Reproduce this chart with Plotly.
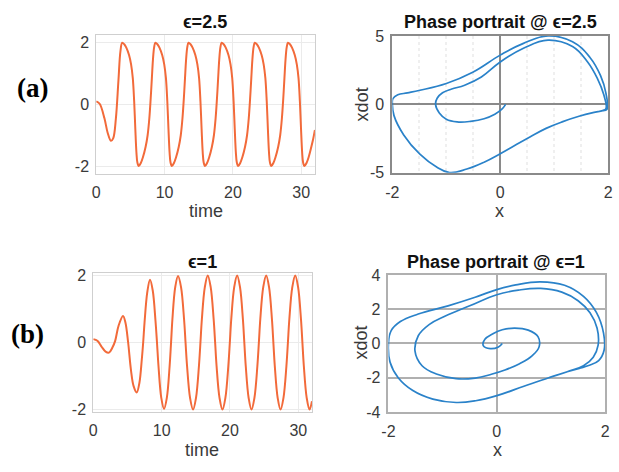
import plotly.graph_objects as go

# ---------------- data ----------------
# (a) eps = 2.5 : time series
ta_time = [0, 0.5, 1.2, 1.67, 2.15, 2.48, 2.87, 3.25, 3.54, 3.8,
           4.1, 4.4, 4.8, 5.1, 5.35, 5.55, 5.72, 5.88, 6.02, 6.22,
           6.52, 6.82, 7.22, 7.52, 7.77, 7.97, 8.14, 8.3, 8.47, 8.65,
           8.95, 9.25, 9.65, 9.95, 10.2, 10.4, 10.57, 10.73, 10.87, 11.07,
           11.37, 11.67, 12.07, 12.37, 12.62, 12.82, 12.99, 13.15, 13.32, 13.5,
           13.8, 14.1, 14.5, 14.8, 15.05, 15.25, 15.42, 15.58, 15.72, 15.92,
           16.22, 16.52, 16.92, 17.22, 17.47, 17.67, 17.84, 18.0, 18.17, 18.35,
           18.65, 18.95, 19.35, 19.65, 19.9, 20.1, 20.27, 20.43, 20.57, 20.77,
           21.07, 21.37, 21.77, 22.07, 22.32, 22.52, 22.69, 22.85, 23.02, 23.2,
           23.5, 23.8, 24.2, 24.5, 24.75, 24.95, 25.12, 25.28, 25.42, 25.62,
           25.92, 26.22, 26.62, 26.92, 27.17, 27.37, 27.54, 27.7, 27.87, 28.05,
           28.35, 28.65, 29.05, 29.35, 29.6, 29.8, 29.97, 30.13, 30.27, 30.47,
           30.77, 31.07, 31.47, 31.77, 32.0]
ta_x = [0.1, 0.02, -0.45, -0.92, -1.18, -1.1, -0.47, 0.78, 1.72, 2.0,
        1.95, 1.84, 1.6, 1.3, 0.85, 0.1, -0.8, -1.55, -1.88, -2.0,
        -1.9, -1.72, -1.38, -1.0, -0.45, 0.2, 0.85, 1.45, 1.85, 2.0,
        1.95, 1.84, 1.6, 1.3, 0.85, 0.1, -0.8, -1.55, -1.88, -2.0,
        -1.9, -1.72, -1.38, -1.0, -0.45, 0.2, 0.85, 1.45, 1.85, 2.0,
        1.95, 1.84, 1.6, 1.3, 0.85, 0.1, -0.8, -1.55, -1.88, -2.0,
        -1.9, -1.72, -1.38, -1.0, -0.45, 0.2, 0.85, 1.45, 1.85, 2.0,
        1.95, 1.84, 1.6, 1.3, 0.85, 0.1, -0.8, -1.55, -1.88, -2.0,
        -1.9, -1.72, -1.38, -1.0, -0.45, 0.2, 0.85, 1.45, 1.85, 2.0,
        1.95, 1.84, 1.6, 1.3, 0.85, 0.1, -0.8, -1.55, -1.88, -2.0,
        -1.9, -1.72, -1.38, -1.0, -0.45, 0.2, 0.85, 1.45, 1.85, 2.0,
        1.95, 1.84, 1.6, 1.3, 0.85, 0.1, -0.8, -1.55, -1.88, -2.0,
        -1.9, -1.72, -1.38, -1.1, -0.83]

# (a) eps = 2.5 : phase portrait
pa_x = [0.1, 0.03, -0.1, -0.3, -0.55, -0.8, -1.0, -1.13, -1.2,
        -1.17, -1.07, -0.9, -0.66, -0.35, 0.0, 0.43, 0.885, 1.34, 1.62, 1.8, 1.92, 1.96,
        1.9, 1.72, 1.46, 1.16, 0.85, 0.55, 0.26, 0.0, -0.3, -0.62, -0.94, -1.18, -1.49, -1.79, -1.97, -2.0,
        -1.99, -1.9, -1.72, -1.49, -1.0, -0.51, 0.0, 0.43, 0.885, 1.34, 1.66, 1.86, 1.96, 1.98,
        1.9, 1.72, 1.46, 1.16, 0.85, 0.55, 0.26, 0.0, -0.3, -0.62, -0.94, -1.18, -1.49, -1.79, -1.97, -2.0,
        -1.99, -1.9, -1.72, -1.49, -1.0, -0.51, 0.0, 0.43, 0.885, 1.34, 1.66, 1.86, 1.96, 1.98,
        1.9]
pa_v = [0.0, -0.35, -0.72, -1.05, -1.24, -1.28, -1.08, -0.62, 0.0,
        0.45, 0.85, 1.12, 1.4, 2.0, 3.1, 4.1, 4.7, 4.23, 3.1, 1.9, 0.7, -0.3,
        -0.45, -0.6, -0.87, -1.26, -1.75, -2.38, -3.02, -3.6, -4.22, -4.72, -4.98, -4.58, -3.64, -2.23, -0.82, 0.0,
        0.42, 0.7, 0.84, 1.03, 1.53, 2.35, 3.6, 4.46, 5.0, 4.58, 3.45, 2.1, 0.8, -0.35,
        -0.45, -0.6, -0.87, -1.26, -1.75, -2.38, -3.02, -3.6, -4.22, -4.72, -4.98, -4.58, -3.64, -2.23, -0.82, 0.0,
        0.42, 0.7, 0.84, 1.03, 1.53, 2.35, 3.6, 4.46, 5.0, 4.58, 3.45, 2.1, 0.8, -0.35,
        -0.45]

# (b) eps = 1 : time series
tb_time = [0, 0.6, 1.2, 1.8, 2.3, 2.8, 3.2, 3.7, 4.35,
           4.7, 5.1, 5.5, 5.9, 6.36,
           6.75, 7.1, 7.3, 7.5, 7.9, 8.3,
           8.7, 9.1, 9.32, 9.54, 9.95, 10.35,
           10.76, 11.17, 11.38, 11.58, 11.99, 12.4,
           12.84, 13.28, 13.5, 13.72, 14.16, 14.6,
           15.03, 15.46, 15.68, 15.89, 16.32, 16.75,
           17.18, 17.61, 17.83, 18.04, 18.47, 18.9,
           19.33, 19.76, 19.98, 20.19, 20.62, 21.05,
           21.47, 21.89, 22.1, 22.31, 22.73, 23.15,
           23.58, 24.01, 24.23, 24.44, 24.87, 25.3,
           25.72, 26.14, 26.35, 26.56, 26.98, 27.4,
           27.83, 28.26, 28.48, 28.69, 29.12, 29.55,
           29.97, 30.39, 30.6, 30.81, 31.23, 31.65,
           32.0]
tb_x = [0.1, 0.05, -0.12, -0.27, -0.3, -0.15, 0.05, 0.5, 0.79,
        0.6, 0.0, -0.8, -1.3, -1.49,
        -1.2, -0.5, 0.0, 0.6, 1.5, 1.87,
        1.55, 0.65, 0.0, -0.7, -1.65, -1.98,
        -1.65, -0.7, 0.0, 0.7, 1.65, 1.98,
        1.65, 0.7, 0.0, -0.7, -1.65, -2.0,
        -1.65, -0.7, 0.0, 0.7, 1.65, 2.0,
        1.65, 0.7, 0.0, -0.7, -1.65, -2.0,
        -1.65, -0.7, 0.0, 0.7, 1.65, 2.0,
        1.65, 0.7, 0.0, -0.7, -1.65, -2.0,
        -1.65, -0.7, 0.0, 0.7, 1.65, 2.0,
        1.65, 0.7, 0.0, -0.7, -1.65, -2.0,
        -1.65, -0.7, 0.0, 0.7, 1.65, 2.0,
        1.65, 0.7, 0.0, -0.7, -1.65, -2.0,
        -1.75]

# (b) eps = 1 : phase portrait
pb_x = [0.1, 0.03, -0.12, -0.25, -0.22, -0.08, 0.1, 0.33, 0.58, 0.76, 0.78, 0.65, 0.42, 0.15, -0.1,
        -0.4, -0.75, -1.1, -1.38, -1.51, -1.45, -1.25, -0.95, -0.5, 0.0, 0.4, 0.81, 1.2, 1.5, 1.72,
        1.85, 1.87, 1.78, 1.6,
        1.3, 0.96, 0.5, 0.0, -0.39, -0.75, -1.18, -1.55, -1.82, -1.97, -2.0,
        -1.95, -1.78, -1.45, -0.9, -0.4, 0.0, 0.35, 0.8, 1.25, 1.6, 1.84, 1.97, 1.98, 1.88, 1.68,
        1.3, 0.96, 0.5, 0.0, -0.39, -0.75, -1.18, -1.55, -1.82, -1.97, -2.0,
        -1.95, -1.78, -1.45, -0.9, -0.4, 0.0, 0.35, 0.8, 1.25, 1.6, 1.84, 1.97, 1.98, 1.88, 1.68,
        1.3]
pb_v = [0.0, -0.2, -0.3, -0.12, 0.25, 0.55, 0.8, 0.9, 0.78, 0.4, -0.2, -0.72, -1.18, -1.55, -1.8,
        -2.02, -2.06, -1.8, -1.3, -0.45, 0.45, 1.1, 1.6, 2.2, 2.85, 3.12, 3.22, 3.0, 2.5, 1.8,
        0.9, -0.1, -0.8, -1.3,
        -1.65, -2.0, -2.5, -3.05, -3.35, -3.45, -3.25, -2.75, -2.0, -1.1, 0.0,
        0.75, 1.28, 1.72, 2.2, 2.7, 3.15, 3.42, 3.6, 3.4, 2.75, 1.8, 0.6, -0.4, -1.0, -1.3,
        -1.65, -2.0, -2.5, -3.05, -3.35, -3.45, -3.25, -2.75, -2.0, -1.1, 0.0,
        0.75, 1.28, 1.72, 2.2, 2.7, 3.15, 3.42, 3.6, 3.4, 2.75, 1.8, 0.6, -0.4, -1.0, -1.3,
        -1.65]

# tick values and labels
ts_ticks_x = [0, 10, 20, 30]
ts_ticks_y = [-2, 0, 2]
ts_ticktext_y = ["-2", "0", "2"]
pp_ticks_x = [-2, 0, 2]
pp_ticktext_x = ["-2", "0", "2"]
pa_ticks_y = [-5, 0, 5]
pa_ticktext_y = ["-5", "0", "5"]
pb_ticks_y = [-4, -2, 0, 2, 4]
pb_ticktext_y = ["-4", "-2", "0", "2", "4"]

W, H = 619, 472
ORANGE = "#F26A3A"
BLUE = "#2A82C9"


def px(x):
    return x / W


def py(y):
    return 1 - y / H


fig = go.Figure()
fig.add_trace(go.Scatter(x=ta_time, y=ta_x, mode="lines", xaxis="x", yaxis="y",
                         line=dict(color=ORANGE, width=2, shape="spline", smoothing=1.0)))
fig.add_trace(go.Scatter(x=pa_x, y=pa_v, mode="lines", xaxis="x2", yaxis="y2",
                         line=dict(color=BLUE, width=1.7, shape="spline", smoothing=1.2)))
fig.add_trace(go.Scatter(x=tb_time, y=tb_x, mode="lines", xaxis="x3", yaxis="y3",
                         line=dict(color=ORANGE, width=2, shape="spline", smoothing=1.0)))
fig.add_trace(go.Scatter(x=pb_x, y=pb_v, mode="lines", xaxis="x4", yaxis="y4",
                         line=dict(color=BLUE, width=1.7, shape="spline", smoothing=1.2)))

TICKFONT = dict(family="Liberation Sans, Arial", size=16, color="#3a3a3a")
LIGHT_GRID = "#ebebeb"
LIGHT_LINE = "#cfcfcf"

common = dict(showline=True, mirror=True, zeroline=False, ticks="", tickfont=TICKFONT,
              fixedrange=True)

fig.update_layout(
    width=W, height=H, autosize=False,
    margin=dict(l=0, r=0, t=0, b=0),
    paper_bgcolor="white", plot_bgcolor="white",
    showlegend=False,
    xaxis=dict(domain=[px(91), px(314)], range=[0, 32], anchor="y",
               tickvals=ts_ticks_x, showgrid=True, gridcolor=LIGHT_GRID,
               linecolor=LIGHT_LINE, ticklabelstandoff=4, **common),
    yaxis=dict(domain=[py(172), py(28)], range=[-2.25, 2.25], anchor="x",
               tickvals=ts_ticks_y, ticktext=ts_ticktext_y, showgrid=True, gridcolor=LIGHT_GRID,
               linecolor=LIGHT_LINE, ticklabelstandoff=3, **common),
    xaxis2=dict(domain=[px(393), px(613)], range=[-2, 2], anchor="y2",
                tickvals=pp_ticks_x, ticktext=pp_ticktext_x, showgrid=True,
                gridcolor="#8a8a8a", gridwidth=2,
                minor=dict(dtick=0.5, showgrid=True, gridcolor="#efefef", griddash="dot"),
                linecolor="#8a8a8a", linewidth=2, ticklabelstandoff=4, **common),
    yaxis2=dict(domain=[py(171), py(29)], range=[-5, 5], anchor="x2",
                tickvals=pa_ticks_y, ticktext=pa_ticktext_y, showgrid=True,
                gridcolor="#8a8a8a", gridwidth=2,
                linecolor="#8a8a8a", linewidth=2, ticklabelstandoff=3, **common),
    xaxis3=dict(domain=[px(88), px(311)], range=[0, 32], anchor="y3",
                tickvals=ts_ticks_x, showgrid=True, gridcolor=LIGHT_GRID,
                linecolor=LIGHT_LINE, ticklabelstandoff=4, **common),
    yaxis3=dict(domain=[py(419), py(275)], range=[-2.07, 2.07], anchor="x3",
                tickvals=ts_ticks_y, ticktext=ts_ticktext_y, showgrid=True, gridcolor=LIGHT_GRID,
                linecolor=LIGHT_LINE, ticklabelstandoff=3, **common),
    xaxis4=dict(domain=[px(389), px(610)], range=[-2, 2], anchor="y4",
                tickvals=pp_ticks_x, ticktext=pp_ticktext_x, showgrid=True,
                gridcolor="#b0b0b0", gridwidth=1.5,
                linecolor="#b0b0b0", linewidth=1.5, ticklabelstandoff=4, **common),
    yaxis4=dict(domain=[py(419), py(277)], range=[-4, 4], anchor="x4",
                tickvals=pb_ticks_y, ticktext=pb_ticktext_y, showgrid=True,
                gridcolor="#b0b0b0", gridwidth=1.5,
                linecolor="#b0b0b0", linewidth=1.5, ticklabelstandoff=3, **common),
)

TITLE_FONT = dict(family="Liberation Sans, Arial", size=18, color="#111111")
LABEL_FONT = dict(family="Liberation Sans, Arial", size=18, color="#3a3a3a")
PANEL_FONT = dict(family="Liberation Serif, Times New Roman", size=27, color="#000000")


def ann(text, x, y, font, angle=0, bold=False):
    fig.add_annotation(text=("<b>%s</b>" % text) if bold else text,
                       x=px(x), y=py(y), xref="paper", yref="paper",
                       showarrow=False, xanchor="center", yanchor="middle",
                       font=font, textangle=angle)


ann("ϵ=2.5", 202, 15, TITLE_FONT, bold=True)
ann("Phase portrait @ ϵ=2.5", 503, 15, TITLE_FONT, bold=True)
ann("ϵ=1", 199, 263, TITLE_FONT, bold=True)
ann("Phase portrait @ ϵ=1", 499, 263, TITLE_FONT, bold=True)

ann("time", 203, 211, LABEL_FONT)
ann("x", 502, 211, LABEL_FONT)
ann("xdot", 362, 100, LABEL_FONT, angle=-90)
ann("time", 199, 458, LABEL_FONT)
ann("x", 500, 458, LABEL_FONT)
ann("xdot", 360, 347, LABEL_FONT, angle=-90)

ann("(a)", 26, 83, PANEL_FONT, bold=True)
ann("(b)", 21, 338, PANEL_FONT, bold=True)

fig.write_html("out.html")
